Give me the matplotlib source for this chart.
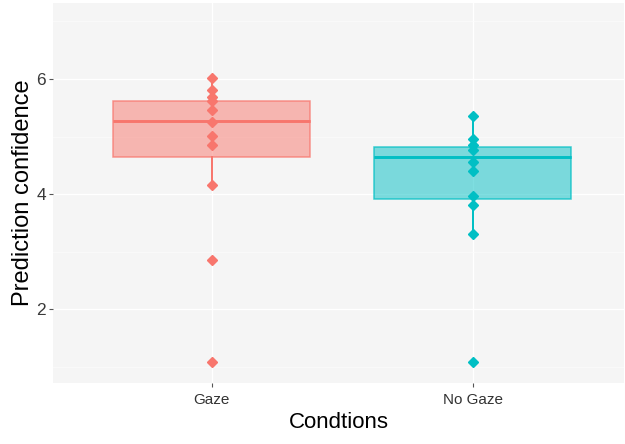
import matplotlib
matplotlib.use("Agg")
import matplotlib.pyplot as plt
from matplotlib.ticker import MultipleLocator

plt.rcParams['font.family'] = ['Liberation Sans', 'DejaVu Sans']

conditions = ['Gaze', 'No Gaze']
colors = ['#F8766D', '#00BFC4']

# individual participant scores
gaze_scores = [6.02, 5.81, 5.69, 5.61, 5.46, 5.26, 5.01, 4.85, 4.16, 2.86, 1.09]
nogaze_scores = [5.35, 4.95, 4.86, 4.77, 4.55, 4.41, 3.96, 3.82, 3.30, 1.09]

# box summaries (lower whisker, Q1, median, Q3, upper whisker)
whisker_lo = [4.16, 3.30]
q1 = [4.65, 3.92]
medians = [5.27, 4.65]
q3 = [5.62, 4.82]
whisker_hi = [6.02, 5.35]

fig = plt.figure(figsize=(6.25, 4.44), dpi=100)
ax = fig.add_axes([53 / 625, 61 / 444, 571 / 625, 380 / 444])
ax.set_facecolor('#F5F5F5')

for i, cond in enumerate(conditions):
    stats = [{'whislo': whisker_lo[i], 'q1': q1[i], 'med': medians[i],
              'q3': q3[i], 'whishi': whisker_hi[i], 'fliers': []}]
    c = colors[i]
    # translucent fill
    ax.bxp(stats, positions=[i + 1], widths=0.755, patch_artist=True,
           showcaps=False, showfliers=False,
           boxprops=dict(facecolor=c, alpha=0.5, edgecolor='none'),
           whiskerprops=dict(color=c, linewidth=1.3),
           medianprops=dict(color=c, linewidth=2.0, alpha=0.9),
           zorder=3)
    # outline on top of the fill
    ax.bxp(stats, positions=[i + 1], widths=0.755, patch_artist=True,
           showcaps=False, showfliers=False,
           boxprops=dict(facecolor='none', edgecolor=c, alpha=0.75, linewidth=1.1),
           whiskerprops=dict(color=c, linewidth=1.3),
           medianprops=dict(color=c, linewidth=2.0, alpha=0.9),
           zorder=4)

for i, scores in enumerate([gaze_scores, nogaze_scores]):
    ax.plot([i + 1] * len(scores), scores, linestyle='none', marker='D',
            markersize=5.0, color=colors[i], zorder=5)

ax.set_xlim(0.392, 2.58)
ax.set_ylim(0.72, 7.32)
ax.set_xticks([1, 2])
ax.set_xticklabels(conditions)
ax.yaxis.set_major_locator(MultipleLocator(2))
ax.yaxis.set_minor_locator(MultipleLocator(1))

ax.grid(True, which='major', color='white', linewidth=1.0, zorder=0)
ax.grid(True, which='minor', axis='y', color='#FCFCFC', linewidth=0.5, zorder=0)
ax.set_axisbelow(True)
for s in ax.spines.values():
    s.set_visible(False)

ax.tick_params(axis='both', which='major', length=3, width=0.8, color='#555555')
ax.tick_params(axis='y', which='minor', length=0)
ax.tick_params(axis='x', labelsize=11, labelcolor='#333333', pad=4)
ax.tick_params(axis='y', labelsize=12.5, labelcolor='#3A3A3A', pad=2)

ax.set_xlabel('Condtions', fontsize=16, labelpad=4)
ax.set_ylabel('Prediction confidence', fontsize=17, labelpad=2)

fig.savefig('out.png', dpi=100)
